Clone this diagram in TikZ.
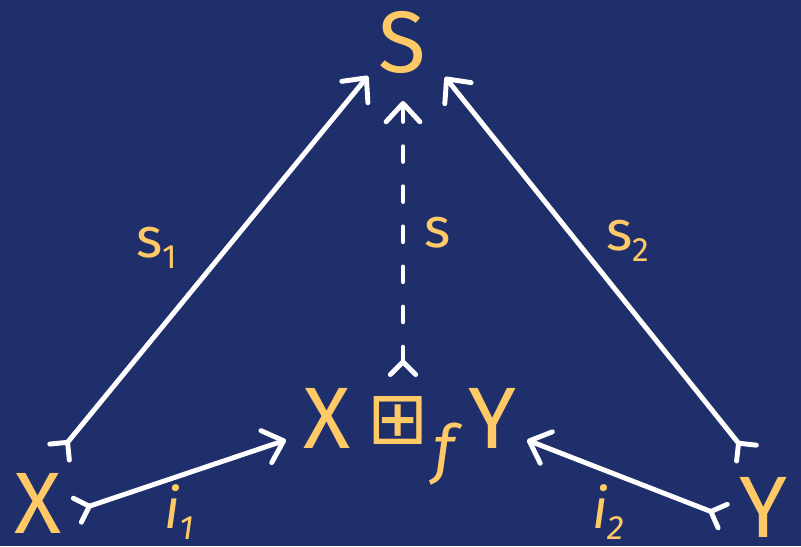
\documentclass[tikz,border=0pt]{standalone}
\usepackage{fontspec}
\setmainfont{Fira Sans}
\newfontfamily\symfont{DejaVu Sans}
\usetikzlibrary{arrows.meta,positioning,calc}
\definecolor{navy}{HTML}{1F2F6B}
\definecolor{amber}{HTML}{FFC966}
\tikzset{
  obj/.style={text=amber, inner sep=0pt, font=\fontsize{62}{62}\selectfont},
  lbl/.style={text=amber, inner sep=0pt, anchor=base west, font=\fontsize{40}{40}\selectfont},
  mor/.style={draw=white, line width=3.5pt, line cap=round,
    {Straight Barb[reversed,length=9pt,width=18pt,round]}-{Straight Barb[length=13pt,width=24pt,round]}},
  dashmor/.style={mor, dash pattern=on 10.5pt off 18pt}
}
\newcommand{\sub}[1]{\raisebox{-8pt}{\fontsize{24}{24}\selectfont #1}}
\begin{document}
\begin{tikzpicture}[x=0.025cm, y=-0.025cm]
\fill[navy] (0,0) rectangle (801,546);
\node[obj] (S) at (402,42) {S};
\node[obj] (X) at (38,503) {X};
\node[obj] (Y) at (763,507) {Y};
\node[obj, anchor=base] (P) at (410,448) {X\kern12pt\raisebox{3pt}{\symfont\fontsize{52}{52}\selectfont ⊞}\kern3pt\raisebox{-17pt}{\fontsize{46}{46}\selectfont\itshape f}\kern10pt Y};
\draw[mor] ([shift={(20,-49)}]X.center) -- ([shift={(-34,34)}]S.center);
\draw[mor] ([shift={(-15,-52)}]Y.center) -- ([shift={(43,35)}]S.center);
\draw[mor] ([shift={(37,8)}]X.center) -- ([shift={(-124,-8)}]P.base);
\draw[mor] ([shift={(-38,10)}]Y.center) -- ([shift={(117,-8)}]P.base);
\draw[dashmor] ([shift={(-7,-71)}]P.base) -- ([shift={(1,59)}]S.center);
\node[lbl] (s1) at (136,257) {s\sub{1}};
\node[lbl] (s2) at (606,250) {s\sub{2}};
\node[lbl] (s) at (424,247) {s};
\node[lbl] (i1) at (164,528) {\itshape i\sub{1}};
\node[lbl] (i2) at (592,528) {\itshape i\sub{2}};
\end{tikzpicture}
\end{document}
